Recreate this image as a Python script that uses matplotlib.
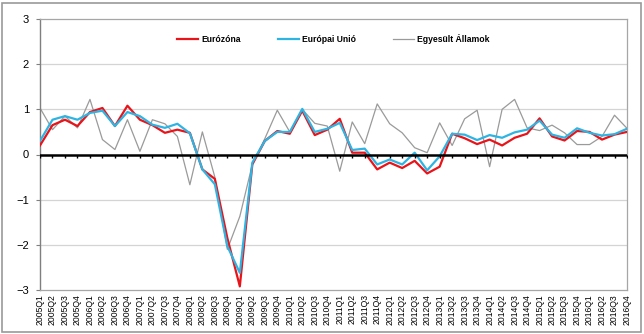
import numpy as np
import matplotlib.pyplot as plt
from matplotlib.patches import Rectangle

plt.rcParams['font.family'] = ['Liberation Sans', 'DejaVu Sans']

# quarterly GDP growth, % q/q
quarters = [f"{y}Q{q}" for y in range(2005, 2017) for q in range(1, 5)]

eurozona = [0.2, 0.65, 0.77, 0.63, 0.94, 1.03, 0.63, 1.08, 0.77, 0.65, 0.48, 0.55,
            0.48, -0.33, -0.54, -1.85, -2.92, -0.22, 0.3, 0.52, 0.46, 0.97, 0.43, 0.55,
            0.79, 0.04, 0.04, -0.33, -0.18, -0.3, -0.14, -0.42, -0.27, 0.46, 0.36, 0.23,
            0.33, 0.2, 0.37, 0.46, 0.8, 0.4, 0.31, 0.52, 0.5, 0.33, 0.44, 0.5]
eu = [0.3, 0.77, 0.85, 0.77, 0.92, 0.97, 0.63, 0.94, 0.85, 0.66, 0.59, 0.68,
      0.47, -0.33, -0.66, -2.03, -2.62, -0.18, 0.3, 0.5, 0.5, 1.01, 0.5, 0.57,
      0.7, 0.1, 0.13, -0.22, -0.11, -0.22, 0.04, -0.35, -0.04, 0.46, 0.44, 0.32,
      0.43, 0.37, 0.49, 0.55, 0.75, 0.44, 0.37, 0.58, 0.48, 0.42, 0.45, 0.57]
usa = [1.03, 0.55, 0.85, 0.59, 1.22, 0.33, 0.11, 0.77, 0.07, 0.77, 0.68, 0.4,
       -0.67, 0.5, -0.5, -2.1, -1.37, -0.22, 0.35, 0.98, 0.5, 1.0, 0.69, 0.63,
       -0.37, 0.72, 0.24, 1.12, 0.68, 0.48, 0.15, 0.04, 0.7, 0.2, 0.79, 0.98,
       -0.27, 1.0, 1.22, 0.59, 0.53, 0.65, 0.48, 0.22, 0.22, 0.4, 0.87, 0.58]

x = np.arange(len(quarters))

fig = plt.figure(figsize=(6.44, 3.34), dpi=100)
ax = fig.add_axes([40/644, 44/334, 587/644, 271/334])

# outer chart frame
fig.patches.append(Rectangle((2/644, 2/334), 639/644, 329/334, transform=fig.transFigure,
                             fill=False, edgecolor='#9a9a9a', lw=1.2))

for v in [-2, -1, 1, 2]:
    ax.axhline(v, color='#d4d4d4', lw=0.9, zorder=1)

ax.plot(x, eurozona, color='#e8141a', lw=1.6, label='Eurózóna', zorder=3)
ax.plot(x, eu, color='#2eb4e2', lw=1.6, label='Európai Unió', zorder=4)
ax.plot(x, usa, color='#9a9a9a', lw=0.9, label='Egyesült Államok', zorder=2)

ax.axhline(0, color='black', lw=1.8, zorder=5)
ax.plot(x, np.zeros(len(x)), ls='none', marker=3, ms=2.5, mew=1, color='black', zorder=5)

ax.set_xlim(0, len(x) - 1)
ax.set_ylim(-3, 3)
ax.set_yticks(range(-3, 4))
ax.tick_params(axis='y', length=3, width=0.8, color='#808080', labelsize=8, pad=5)
ax.set_xticks(x)
ax.set_xticklabels(quarters, rotation=90, fontsize=6.2)
ax.tick_params(axis='x', length=0, pad=3)

for s in ['top', 'right', 'bottom']:
    ax.spines[s].set_color('#a6a6a6')
    ax.spines[s].set_linewidth(0.9)
ax.spines['left'].set_color('#7f7f7f')
ax.spines['left'].set_linewidth(1.0)

ax.legend(loc='center', bbox_to_anchor=(0.5, 0.926), ncol=3, frameon=False,
          prop={'weight': 'bold', 'size': 6.2}, handlelength=2.4, columnspacing=4.3,
          handletextpad=0.4)

fig.savefig('out.png', dpi=100)
